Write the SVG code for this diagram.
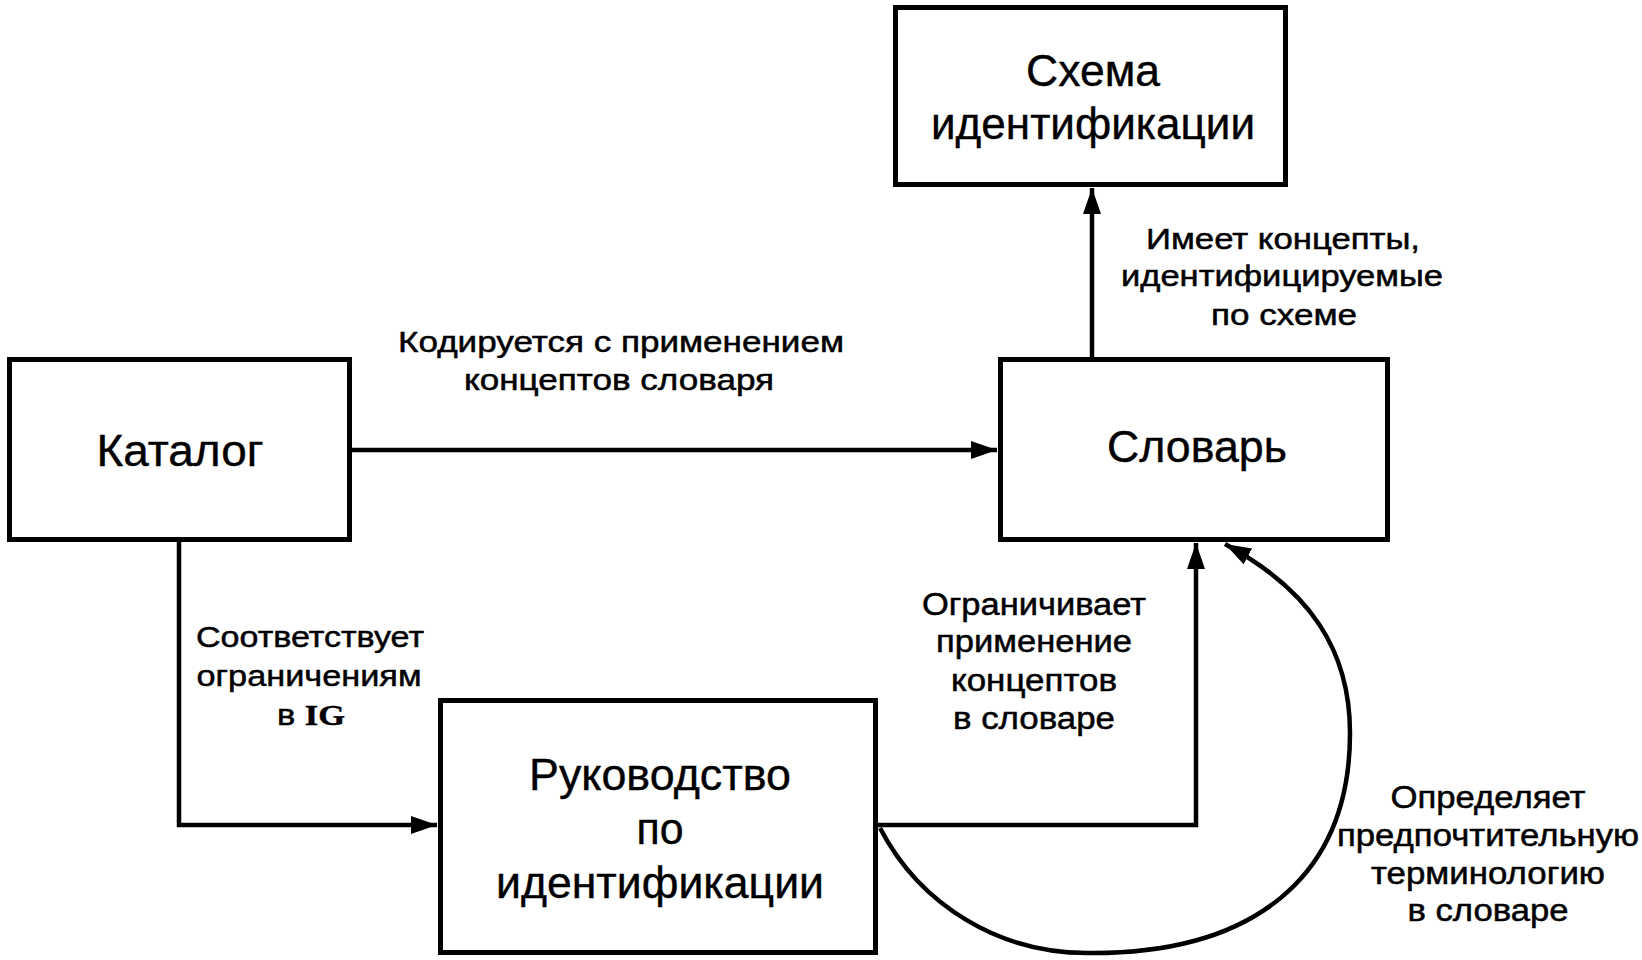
<svg xmlns="http://www.w3.org/2000/svg" width="1642" height="960" viewBox="0 0 1642 960">
<style>
.box{fill:#fff;stroke:#000;stroke-width:5}
.t{font-family:"Liberation Sans",Arial,sans-serif;font-size:44px;fill:#000;stroke:#000;stroke-width:0.4;text-anchor:middle}
.l{font-family:"Liberation Sans",Arial,sans-serif;font-size:30px;fill:#000;stroke:#000;stroke-width:0.5;text-anchor:middle}
.l2{font-size:31px}
.c{fill:none;stroke:#000;stroke-width:4.5}
.s{font-family:"Liberation Serif","Times New Roman",serif;font-weight:bold}
</style>
<defs>
<marker id="ah" markerUnits="userSpaceOnUse" markerWidth="28" markerHeight="20" refX="26" refY="9" orient="auto">
<path d="M0,0 L26,9 L0,18 Z" fill="#000"/>
</marker>
</defs>
<g id="connectors">
<path class="c" d="M352,450 H997" marker-end="url(#ah)"/>
<path class="c" d="M1092,357 V188" marker-end="url(#ah)"/>
<path class="c" d="M179,542 V825 H437" marker-end="url(#ah)"/>
<path class="c" d="M878,825 H1196 V543" marker-end="url(#ah)"/>
<path class="c" d="M880,828 C920,905 1000,955 1093,953 C1250,953 1350,880 1350,733 C1350,650 1310,590 1225,544" stroke-width="4" marker-end="url(#ah)"/>
</g>
<g id="schema">
<rect class="box" x="895.5" y="7.5" width="390" height="177"/>
<text class="t" x="1093" y="86" textLength="134" lengthAdjust="spacingAndGlyphs">Схема</text>
<text class="t" x="1093" y="139" textLength="324" lengthAdjust="spacingAndGlyphs">идентификации</text>
</g>
<g id="catalog">
<rect class="box" x="9.5" y="359.5" width="340" height="180"/>
<text class="t" x="180" y="466" textLength="167" lengthAdjust="spacingAndGlyphs">Каталог</text>
</g>
<g id="dictionary">
<rect class="box" x="1000.5" y="359.5" width="387" height="180"/>
<text class="t" x="1197" y="462" textLength="180" lengthAdjust="spacingAndGlyphs">Словарь</text>
</g>
<g id="guide">
<rect class="box" x="440.5" y="700.5" width="435" height="252"/>
<text class="t" x="660" y="790" textLength="262" lengthAdjust="spacingAndGlyphs">Руководство</text>
<text class="t" x="660" y="844" textLength="47" lengthAdjust="spacingAndGlyphs">по</text>
<text class="t" x="660" y="898" textLength="328" lengthAdjust="spacingAndGlyphs">идентификации</text>
</g>
<g id="labels">
<text class="l" x="621" y="352" textLength="446" lengthAdjust="spacingAndGlyphs">Кодируется с применением</text>
<text class="l" x="619" y="390" textLength="310" lengthAdjust="spacingAndGlyphs">концептов словаря</text>
<text class="l" x="1283" y="249" textLength="274" lengthAdjust="spacingAndGlyphs">Имеет концепты,</text>
<text class="l" x="1282" y="286" textLength="322" lengthAdjust="spacingAndGlyphs">идентифицируемые</text>
<text class="l" x="1284" y="325" textLength="146" lengthAdjust="spacingAndGlyphs">по схеме</text>
<text class="l" x="310" y="647" textLength="228" lengthAdjust="spacingAndGlyphs">Соответствует</text>
<text class="l" x="309" y="686" textLength="225" lengthAdjust="spacingAndGlyphs">ограничениям</text>
<text class="l" x="311" y="725" textLength="68" lengthAdjust="spacingAndGlyphs">в <tspan class="s">IG</tspan></text>
<text class="l l2" x="1034" y="615" textLength="224" lengthAdjust="spacingAndGlyphs">Ограничивает</text>
<text class="l l2" x="1034" y="652" textLength="196" lengthAdjust="spacingAndGlyphs">применение</text>
<text class="l l2" x="1034" y="691" textLength="166" lengthAdjust="spacingAndGlyphs">концептов</text>
<text class="l l2" x="1034" y="729" textLength="162" lengthAdjust="spacingAndGlyphs">в словаре</text>
<text class="l l2" x="1488" y="808" textLength="195" lengthAdjust="spacingAndGlyphs">Определяет</text>
<text class="l l2" x="1488" y="846" textLength="302" lengthAdjust="spacingAndGlyphs">предпочтительную</text>
<text class="l l2" x="1488" y="884" textLength="234" lengthAdjust="spacingAndGlyphs">терминологию</text>
<text class="l l2" x="1488" y="921" textLength="161" lengthAdjust="spacingAndGlyphs">в словаре</text>
</g>
</svg>
